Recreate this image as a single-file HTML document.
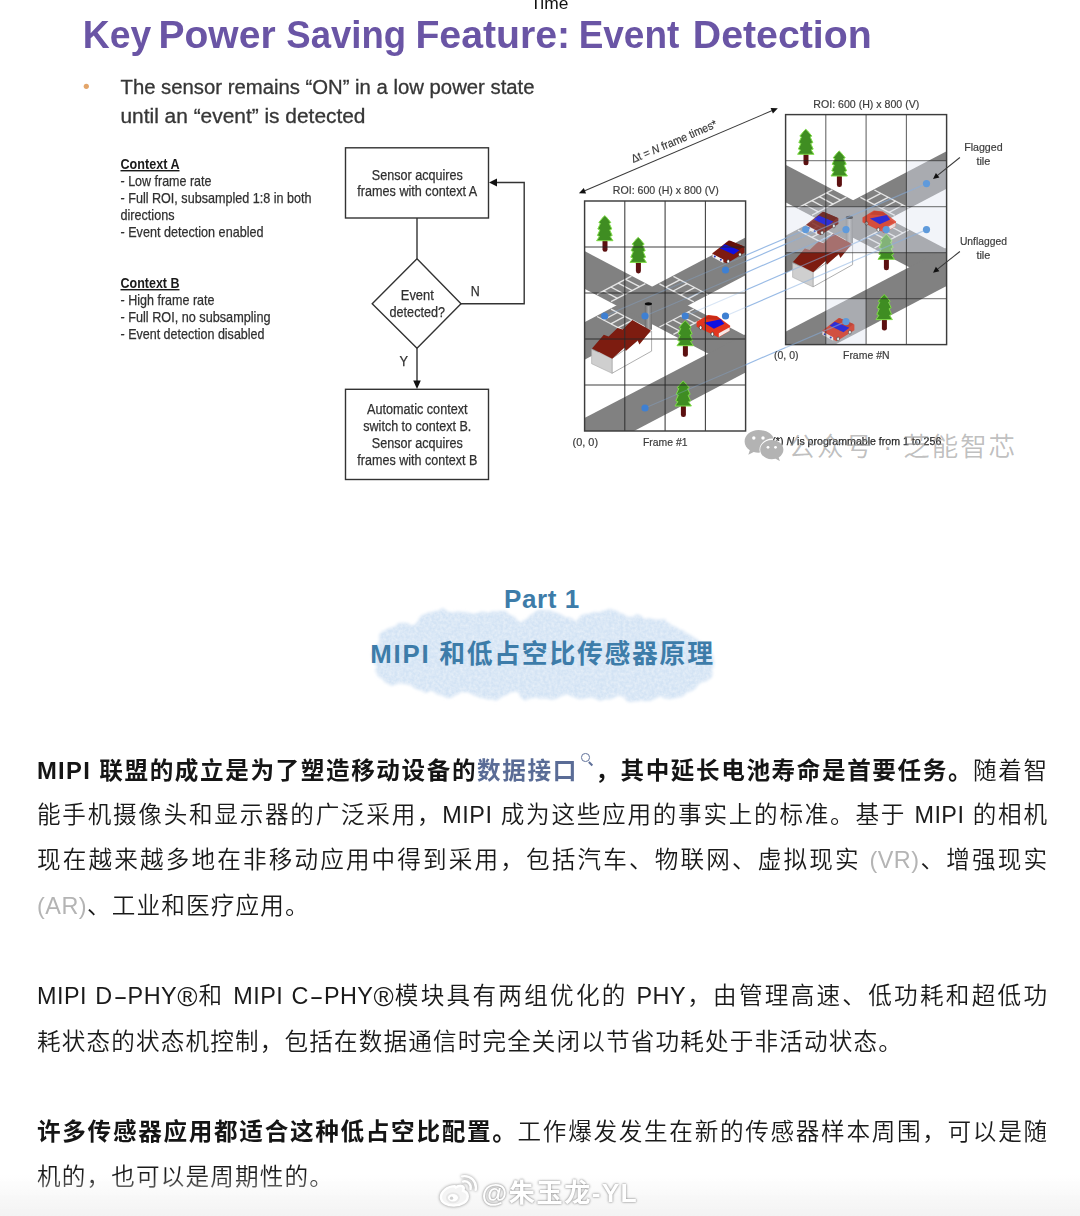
<!DOCTYPE html>
<html lang="zh-CN">
<head>
<meta charset="utf-8">
<title>MIPI 和低占空比传感器原理</title>
<style>
html,body{margin:0;padding:0;background:#fff;}
body{width:1080px;height:1216px;position:relative;overflow:hidden;font-family:"Liberation Sans","Noto Sans CJK SC",sans-serif;}
.slide{position:absolute;left:0;top:0;filter:blur(.65px);}
.wm{position:absolute;left:744px;top:429px;height:34px;white-space:nowrap;}
.wm .wx{position:absolute;left:-.5px;top:0;}
.wm span{position:absolute;left:44.5px;top:-1.5px;font-size:26.5px;line-height:38px;color:rgba(150,150,150,.62);letter-spacing:1.95px;font-weight:350;}
.cloud{position:absolute;left:352px;top:596px;}
.h1,.h2{position:absolute;left:0;width:1080px;text-align:center;color:#3d7ca9;font-weight:700;white-space:nowrap;}
.h1{top:581px;font-size:26px;line-height:36px;letter-spacing:.6px;text-indent:4px;}
.h2{top:635px;font-size:25.8px;line-height:38px;letter-spacing:1.75px;text-indent:5px;}
.ln{position:absolute;left:37px;width:1011.2px;height:45px;line-height:45px;font-size:23.6px;letter-spacing:1.15px;color:#1a1a1a;font-weight:350;white-space:nowrap;}
.ln.j{text-align:justify;text-align-last:justify;white-space:normal;}
.ln b{font-weight:700;color:#151515;}
.ln b .en{font-size:23.8px;letter-spacing:1.3px;}
.txt{filter:blur(.3px);}
.hy{display:inline-block;width:15px;text-align:center;text-align-last:center;transform:scaleX(1.8);letter-spacing:0;}
.rg{font-size:27.5px;line-height:0;letter-spacing:0;position:relative;top:1.5px;}
.ln .lk{color:#5a6c96;}
.ln .gy{color:#b4b4b4;}
.ln .en{font-size:23.4px;letter-spacing:.5px;}
.mg{display:inline-block;position:relative;width:17px;height:20px;vertical-align:top;}
.mg:before{content:"";position:absolute;left:3.5px;top:5.5px;width:6.6px;height:6.6px;border:1.5px solid #5f7099;border-radius:50%;}
.mg:after{content:"";position:absolute;left:11.3px;top:13.2px;width:5.4px;height:1.5px;background:#5f7099;transform:rotate(45deg);transform-origin:0 50%;}
.fade{position:absolute;left:0;top:1174px;width:1080px;height:42px;background:linear-gradient(to bottom,rgba(255,255,255,0),rgba(243,243,243,1));}
.wbm{position:absolute;left:439px;top:1173px;height:38px;white-space:nowrap;}
.wbm .wb{position:absolute;left:0;top:1px;filter:drop-shadow(0 0 1.5px rgba(0,0,0,.45));}
.wbm span{position:absolute;left:42.5px;top:1px;font-size:26.5px;line-height:38px;font-weight:700;color:#fff;text-shadow:0 0 2px rgba(0,0,0,.42),0 0 3px rgba(0,0,0,.25);letter-spacing:1.2px;}
</style>
</head>
<body>
<svg class="slide" width="1080" height="520" viewBox="0 0 1080 520">
<defs><linearGradient id="cyl" x1="0" x2="1" y1="0" y2="0"><stop offset="0" stop-color="#6a6a6a"/><stop offset=".5" stop-color="#a4a4a4"/><stop offset="1" stop-color="#6e6e6e"/></linearGradient></defs>
<g font-family="'Liberation Sans', sans-serif">
<text x="530.4" y="8.5" font-size="17" fill="#111" textLength="38" lengthAdjust="spacingAndGlyphs">Time</text>
<text y="48.4" font-size="39" font-weight="bold" fill="#6a55a5"><tspan x="82.80" textLength="68.39" lengthAdjust="spacingAndGlyphs">Key</tspan> <tspan x="158.50" textLength="117.09" lengthAdjust="spacingAndGlyphs">Power</tspan> <tspan x="286.30" textLength="119.70" lengthAdjust="spacingAndGlyphs">Saving</tspan> <tspan x="415.40" textLength="154.77" lengthAdjust="spacingAndGlyphs">Feature:</tspan> <tspan x="578.70" textLength="100.57" lengthAdjust="spacingAndGlyphs">Event</tspan> <tspan x="692.80" textLength="178.95" lengthAdjust="spacingAndGlyphs">Detection</tspan></text>
<circle cx="86.3" cy="86.3" r="2.6" fill="#e3a56a"/>
<text x="120.5" y="94" font-size="19.6" fill="#363636" stroke="#363636" stroke-width=".3" textLength="414" lengthAdjust="spacingAndGlyphs">The sensor remains “ON” in a low power state</text>
<text x="120.5" y="123" font-size="19.6" fill="#363636" stroke="#363636" stroke-width=".3" textLength="245" lengthAdjust="spacingAndGlyphs">until an “event” is detected</text>
<text x="120.5" y="169.0" font-size="14.2" font-weight="bold" fill="#1a1a1a" text-decoration="underline" textLength="59.0" lengthAdjust="spacingAndGlyphs">Context A</text>
<text x="120.5" y="185.5" font-size="14.2" fill="#303030" stroke="#303030" stroke-width=".25" textLength="91.0" lengthAdjust="spacingAndGlyphs">- Low frame rate</text>
<text x="120.5" y="202.5" font-size="14.2" fill="#303030" stroke="#303030" stroke-width=".25" textLength="191.0" lengthAdjust="spacingAndGlyphs">- Full ROI, subsampled 1:8 in both</text>
<text x="120.5" y="219.5" font-size="14.2" fill="#303030" stroke="#303030" stroke-width=".25" textLength="54.0" lengthAdjust="spacingAndGlyphs">directions</text>
<text x="120.5" y="236.5" font-size="14.2" fill="#303030" stroke="#303030" stroke-width=".25" textLength="143.0" lengthAdjust="spacingAndGlyphs">- Event detection enabled</text>
<text x="120.5" y="288.0" font-size="14.2" font-weight="bold" fill="#1a1a1a" text-decoration="underline" textLength="59.0" lengthAdjust="spacingAndGlyphs">Context B</text>
<text x="120.5" y="304.5" font-size="14.2" fill="#303030" stroke="#303030" stroke-width=".25" textLength="94.0" lengthAdjust="spacingAndGlyphs">- High frame rate</text>
<text x="120.5" y="321.5" font-size="14.2" fill="#303030" stroke="#303030" stroke-width=".25" textLength="150.0" lengthAdjust="spacingAndGlyphs">- Full ROI, no subsampling</text>
<text x="120.5" y="338.5" font-size="14.2" fill="#303030" stroke="#303030" stroke-width=".25" textLength="144.0" lengthAdjust="spacingAndGlyphs">- Event detection disabled</text>
<g fill="none" stroke="#333" stroke-width="1.4">
<rect x="345.5" y="147.8" width="143" height="70.2" fill="#fff"/>
<rect x="345.5" y="389.3" width="143" height="90.2" fill="#fff"/>
<polygon points="417,258.8 461,303.7 417,348.3 372.2,303.7" fill="#fff"/>
<line x1="417" y1="218" x2="417" y2="258.8"/>
<line x1="417" y1="348.3" x2="417" y2="382"/>
<polyline points="461,303.7 524.2,303.7 524.2,182.5 496,182.5"/>
</g>
<polygon points="489,182.5 497,178.6 497,186.4" fill="#111"/>
<polygon points="417,389 413.2,380.5 420.8,380.5" fill="#111"/>
<text x="417.3" y="179.5" font-size="14" fill="#303030" stroke="#303030" stroke-width=".25" text-anchor="middle" textLength="91.0" lengthAdjust="spacingAndGlyphs">Sensor acquires</text>
<text x="417.3" y="196.3" font-size="14" fill="#303030" stroke="#303030" stroke-width=".25" text-anchor="middle" textLength="120.0" lengthAdjust="spacingAndGlyphs">frames with context A</text>
<text x="417.3" y="300.2" font-size="14" fill="#303030" stroke="#303030" stroke-width=".25" text-anchor="middle" textLength="33.0" lengthAdjust="spacingAndGlyphs">Event</text>
<text x="417.3" y="317.0" font-size="14" fill="#303030" stroke="#303030" stroke-width=".25" text-anchor="middle" textLength="55.5" lengthAdjust="spacingAndGlyphs">detected?</text>
<text x="475.2" y="296.0" font-size="14" fill="#303030" stroke="#303030" stroke-width=".25" text-anchor="middle" textLength="9.0" lengthAdjust="spacingAndGlyphs">N</text>
<text x="403.8" y="366.0" font-size="14" fill="#303030" stroke="#303030" stroke-width=".25" text-anchor="middle" textLength="8.5" lengthAdjust="spacingAndGlyphs">Y</text>
<text x="417.3" y="413.8" font-size="14" fill="#303030" stroke="#303030" stroke-width=".25" text-anchor="middle" textLength="100.5" lengthAdjust="spacingAndGlyphs">Automatic context</text>
<text x="417.3" y="430.8" font-size="14" fill="#303030" stroke="#303030" stroke-width=".25" text-anchor="middle" textLength="108.0" lengthAdjust="spacingAndGlyphs">switch to context B.</text>
<text x="417.3" y="447.8" font-size="14" fill="#303030" stroke="#303030" stroke-width=".25" text-anchor="middle" textLength="91.0" lengthAdjust="spacingAndGlyphs">Sensor acquires</text>
<text x="417.3" y="464.6" font-size="14" fill="#303030" stroke="#303030" stroke-width=".25" text-anchor="middle" textLength="120.0" lengthAdjust="spacingAndGlyphs">frames with context B</text>
<g transform="translate(584.6 201.0)"><clipPath id="clip1"><rect x="0" y="0" width="161.0" height="230.0"/></clipPath><rect x="0" y="0" width="161.0" height="230.0" fill="#fff"/><g clip-path="url(#clip1)"><polygon points="-5.0,123.7 166.0,33.9 166.0,71.5 -5.0,161.3" fill="#818181"/><polygon points="-5.0,47.5 166.0,137.3 166.0,174.9 -5.0,85.1" fill="#818181"/><polygon points="-5.0,219.6 166.0,130.5 166.0,168.8 -5.0,258.6" fill="#818181"/><g stroke="#f0f0f0" stroke-width="1.4" stroke-opacity=".9" fill="none"><line x1="26.4" y1="100.6" x2="60.8" y2="82.6"/><line x1="12.4" y1="93.3" x2="46.8" y2="75.2"/><line x1="32.8" y1="97.3" x2="18.8" y2="89.9"/><line x1="40.2" y1="93.4" x2="26.2" y2="86.0"/><line x1="47.6" y1="89.5" x2="33.6" y2="82.1"/><line x1="55.0" y1="85.6" x2="41.0" y2="78.3"/><line x1="74.8" y1="126.0" x2="109.2" y2="108.0"/><line x1="88.8" y1="133.4" x2="123.2" y2="115.3"/><line x1="81.2" y1="122.7" x2="95.2" y2="130.0"/><line x1="88.6" y1="118.8" x2="102.6" y2="126.1"/><line x1="96.0" y1="114.9" x2="110.0" y2="122.2"/><line x1="103.4" y1="111.0" x2="117.4" y2="118.4"/><line x1="26.4" y1="108.2" x2="60.8" y2="126.2"/><line x1="12.4" y1="115.5" x2="46.8" y2="133.6"/><line x1="32.8" y1="111.5" x2="18.8" y2="118.9"/><line x1="40.2" y1="115.4" x2="26.2" y2="122.8"/><line x1="47.6" y1="119.3" x2="33.6" y2="126.7"/><line x1="55.0" y1="123.2" x2="41.0" y2="130.5"/><line x1="74.8" y1="82.8" x2="109.2" y2="100.8"/><line x1="88.8" y1="75.4" x2="123.2" y2="93.5"/><line x1="81.2" y1="86.1" x2="95.2" y2="78.8"/><line x1="88.6" y1="90.0" x2="102.6" y2="82.7"/><line x1="96.0" y1="93.9" x2="110.0" y2="86.6"/><line x1="103.4" y1="97.8" x2="117.4" y2="90.4"/></g></g><rect x="60.2" y="102.8" width="7.2" height="26" fill="url(#cyl)"/><ellipse cx="63.8" cy="102.8" rx="3.6" ry="1.6" fill="#0a0a0a"/><polygon points="27.4,157.5 67.0,130.1 67.0,150.1 27.4,172.3" fill="#fff" stroke="#9a9a9a" stroke-width=".8"/><polygon points="7.0,148.3 27.4,157.5 27.4,172.3 7.0,162.7" fill="#cfcfcf" stroke="#a8a8a8" stroke-width=".6"/><polygon points="7.4,147.5 19.2,133.8 24.0,135.4 32.9,127.0 38.1,128.6 47.7,119.0 66.3,129.4 54.8,143.4 53.1,139.4 41.2,150.1 40.0,146.4 27.6,157.7" fill="#7d1c10"/><rect x="17.9" y="38.2" width="5" height="12.5" rx="2.3" fill="#5c1010"/><polygon points="20.2,14.7 21.8,16.1 26.2,21.5 24.6,22.4 27.2,28.0 25.1,28.9 27.6,34.5 25.5,35.4 28.4,39.7 12.0,39.7 14.9,35.4 12.8,34.5 15.3,28.9 13.2,28.0 15.8,22.4 14.2,21.5 18.6,16.1" fill="#3f8d22" stroke="#7fdc48" stroke-width="1" stroke-linejoin="round"/><rect x="51.3" y="59.9" width="5" height="12.5" rx="2.3" fill="#5c1010"/><polygon points="53.6,36.4 55.2,37.8 59.6,43.2 58.0,44.1 60.6,49.7 58.5,50.6 61.0,56.2 58.9,57.1 61.8,61.4 45.4,61.4 48.3,57.1 46.2,56.2 48.7,50.6 46.6,49.7 49.2,44.1 47.6,43.2 52.0,37.8" fill="#3f8d22" stroke="#7fdc48" stroke-width="1" stroke-linejoin="round"/><rect x="98.3" y="143.2" width="5" height="12.5" rx="2.3" fill="#5c1010"/><polygon points="100.6,119.7 102.2,121.1 106.6,126.5 105.0,127.4 107.6,133.0 105.5,133.9 108.0,139.5 105.9,140.4 108.8,144.7 92.4,144.7 95.3,140.4 93.2,139.5 95.7,133.9 93.6,133.0 96.2,127.4 94.6,126.5 99.0,121.1" fill="#3f8d22" stroke="#7fdc48" stroke-width="1" stroke-linejoin="round"/><rect x="96.3" y="203.5" width="5" height="12.5" rx="2.3" fill="#5c1010"/><polygon points="98.6,180.0 100.2,181.4 104.6,186.8 103.0,187.7 105.6,193.3 103.5,194.2 106.0,199.8 103.9,200.7 106.8,205.0 90.4,205.0 93.3,200.7 91.2,199.8 93.7,194.2 91.6,193.3 94.2,187.7 92.6,186.8 97.0,181.4" fill="#3f8d22" stroke="#7fdc48" stroke-width="1" stroke-linejoin="round"/><g transform="translate(127.6 39.0)"><polygon points="0.2,13.2 16.5,0.4 32.3,6.8 32.3,12.7 14.5,23.6 0.2,16.6" fill="#7e1a10"/><polygon points="11.0,5.2 17.5,0.4 31.5,6.3 25.0,11.3" fill="#651008"/><polygon points="7.6,8.2 12.6,4.2 27.3,10.2 21.4,14.6" fill="#1010e0"/><polygon points="0.2,13.7 11.1,19.6 11.1,23.1 0.2,17.1" fill="#f4f4f4"/><circle cx="2.6" cy="16.6" r="1" fill="#2030c0"/><circle cx="8.6" cy="19.8" r="1" fill="#2030c0"/><ellipse cx="16" cy="21.4" rx="1.4" ry="1.9" fill="#fff" stroke="#222" stroke-width=".6"/><ellipse cx="27.8" cy="14.6" rx="1.4" ry="1.9" fill="#fff" stroke="#222" stroke-width=".6"/></g><g transform="translate(112.0 113.9)"><polygon points="0.0,6.9 11.4,0.0 20.3,1.0 33.6,10.9 33.1,15.8 22.2,22.7 0.0,11.8" fill="#e2361f"/><polygon points="7.0,4.0 12.0,0.6 20.0,1.6 25.0,5.0" fill="#c92a15"/><polygon points="7.4,7.9 24.2,4.4 27.7,8.9 17.3,13.8" fill="#1010e0"/><polygon points="22.2,18.3 33.1,12.3 33.1,15.8 22.2,22.2" fill="#f6e8e6"/><ellipse cx="4" cy="12.8" rx="1.4" ry="1.9" fill="#fff" stroke="#222" stroke-width=".6"/><ellipse cx="15.8" cy="19.2" rx="1.4" ry="1.9" fill="#fff" stroke="#222" stroke-width=".6"/></g><g stroke="#2e2e2e" stroke-width="1.1" stroke-opacity=".9"><line x1="40.2" y1="0" x2="40.2" y2="230.0"/><line x1="80.5" y1="0" x2="80.5" y2="230.0"/><line x1="120.8" y1="0" x2="120.8" y2="230.0"/></g><g stroke="#262626" stroke-width="1.05" stroke-opacity=".88"><line x1="0" y1="46.0" x2="161.0" y2="46.0"/><line x1="0" y1="92.0" x2="161.0" y2="92.0"/><line x1="0" y1="138.0" x2="161.0" y2="138.0"/><line x1="0" y1="184.0" x2="161.0" y2="184.0"/></g><rect x="0" y="0" width="161.0" height="230.0" fill="none" stroke="#3c3c3c" stroke-width="1.45"/></g>
<g transform="translate(785.6 114.6)"><clipPath id="clip2"><rect x="0" y="0" width="161.0" height="230.0"/></clipPath><rect x="0" y="0" width="161.0" height="230.0" fill="#fff"/><g clip-path="url(#clip2)"><polygon points="-5.0,123.7 166.0,33.9 166.0,71.5 -5.0,161.3" fill="#818181"/><polygon points="-5.0,47.5 166.0,137.3 166.0,174.9 -5.0,85.1" fill="#818181"/><polygon points="-5.0,219.6 166.0,130.5 166.0,168.8 -5.0,258.6" fill="#818181"/><g stroke="#f0f0f0" stroke-width="1.4" stroke-opacity=".9" fill="none"><line x1="26.4" y1="100.6" x2="60.8" y2="82.6"/><line x1="12.4" y1="93.3" x2="46.8" y2="75.2"/><line x1="32.8" y1="97.3" x2="18.8" y2="89.9"/><line x1="40.2" y1="93.4" x2="26.2" y2="86.0"/><line x1="47.6" y1="89.5" x2="33.6" y2="82.1"/><line x1="55.0" y1="85.6" x2="41.0" y2="78.3"/><line x1="74.8" y1="126.0" x2="109.2" y2="108.0"/><line x1="88.8" y1="133.4" x2="123.2" y2="115.3"/><line x1="81.2" y1="122.7" x2="95.2" y2="130.0"/><line x1="88.6" y1="118.8" x2="102.6" y2="126.1"/><line x1="96.0" y1="114.9" x2="110.0" y2="122.2"/><line x1="103.4" y1="111.0" x2="117.4" y2="118.4"/><line x1="26.4" y1="108.2" x2="60.8" y2="126.2"/><line x1="12.4" y1="115.5" x2="46.8" y2="133.6"/><line x1="32.8" y1="111.5" x2="18.8" y2="118.9"/><line x1="40.2" y1="115.4" x2="26.2" y2="122.8"/><line x1="47.6" y1="119.3" x2="33.6" y2="126.7"/><line x1="55.0" y1="123.2" x2="41.0" y2="130.5"/><line x1="74.8" y1="82.8" x2="109.2" y2="100.8"/><line x1="88.8" y1="75.4" x2="123.2" y2="93.5"/><line x1="81.2" y1="86.1" x2="95.2" y2="78.8"/><line x1="88.6" y1="90.0" x2="102.6" y2="82.7"/><line x1="96.0" y1="93.9" x2="110.0" y2="86.6"/><line x1="103.4" y1="97.8" x2="117.4" y2="90.4"/></g></g><rect x="60.2" y="102.8" width="7.2" height="26" fill="url(#cyl)"/><ellipse cx="63.8" cy="102.8" rx="3.6" ry="1.6" fill="#0a0a0a"/><polygon points="27.4,157.5 67.0,130.1 67.0,150.1 27.4,172.3" fill="#fff" stroke="#9a9a9a" stroke-width=".8"/><polygon points="7.0,148.3 27.4,157.5 27.4,172.3 7.0,162.7" fill="#cfcfcf" stroke="#a8a8a8" stroke-width=".6"/><polygon points="7.4,147.5 19.2,133.8 24.0,135.4 32.9,127.0 38.1,128.6 47.7,119.0 66.3,129.4 54.8,143.4 53.1,139.4 41.2,150.1 40.0,146.4 27.6,157.7" fill="#7d1c10"/><rect x="17.9" y="38.2" width="5" height="12.5" rx="2.3" fill="#5c1010"/><polygon points="20.2,14.7 21.8,16.1 26.2,21.5 24.6,22.4 27.2,28.0 25.1,28.9 27.6,34.5 25.5,35.4 28.4,39.7 12.0,39.7 14.9,35.4 12.8,34.5 15.3,28.9 13.2,28.0 15.8,22.4 14.2,21.5 18.6,16.1" fill="#3f8d22" stroke="#7fdc48" stroke-width="1" stroke-linejoin="round"/><rect x="51.3" y="59.9" width="5" height="12.5" rx="2.3" fill="#5c1010"/><polygon points="53.6,36.4 55.2,37.8 59.6,43.2 58.0,44.1 60.6,49.7 58.5,50.6 61.0,56.2 58.9,57.1 61.8,61.4 45.4,61.4 48.3,57.1 46.2,56.2 48.7,50.6 46.6,49.7 49.2,44.1 47.6,43.2 52.0,37.8" fill="#3f8d22" stroke="#7fdc48" stroke-width="1" stroke-linejoin="round"/><rect x="98.3" y="143.2" width="5" height="12.5" rx="2.3" fill="#5c1010"/><polygon points="100.6,119.7 102.2,121.1 106.6,126.5 105.0,127.4 107.6,133.0 105.5,133.9 108.0,139.5 105.9,140.4 108.8,144.7 92.4,144.7 95.3,140.4 93.2,139.5 95.7,133.9 93.6,133.0 96.2,127.4 94.6,126.5 99.0,121.1" fill="#3f8d22" stroke="#7fdc48" stroke-width="1" stroke-linejoin="round"/><rect x="96.3" y="203.5" width="5" height="12.5" rx="2.3" fill="#5c1010"/><polygon points="98.6,180.0 100.2,181.4 104.6,186.8 103.0,187.7 105.6,193.3 103.5,194.2 106.0,199.8 103.9,200.7 106.8,205.0 90.4,205.0 93.3,200.7 91.2,199.8 93.7,194.2 91.6,193.3 94.2,187.7 92.6,186.8 97.0,181.4" fill="#3f8d22" stroke="#7fdc48" stroke-width="1" stroke-linejoin="round"/><rect x="120.8" y="46.0" width="40.2" height="46.0" fill="#dfe4f0" fill-opacity=".42"/><rect x="0.0" y="92.0" width="40.2" height="46.0" fill="#dfe4f0" fill-opacity=".42"/><rect x="40.2" y="92.0" width="40.2" height="46.0" fill="#dfe4f0" fill-opacity=".42"/><rect x="80.5" y="92.0" width="40.2" height="46.0" fill="#dfe4f0" fill-opacity=".42"/><rect x="120.8" y="92.0" width="40.2" height="46.0" fill="#dfe4f0" fill-opacity=".42"/><rect x="40.2" y="184.0" width="40.2" height="46.0" fill="#dfe4f0" fill-opacity=".42"/><g opacity=".8"><g transform="translate(20.5 96.8)"><polygon points="0.2,13.2 16.5,0.4 32.3,6.8 32.3,12.7 14.5,23.6 0.2,16.6" fill="#7e1f18"/><polygon points="11.0,5.2 17.5,0.4 31.5,6.3 25.0,11.3" fill="#651008"/><polygon points="7.6,8.2 12.6,4.2 27.3,10.2 21.4,14.6" fill="#1010e0"/><polygon points="0.2,13.7 11.1,19.6 11.1,23.1 0.2,17.1" fill="#f4f4f4"/><circle cx="2.6" cy="16.6" r="1" fill="#2030c0"/><circle cx="8.6" cy="19.8" r="1" fill="#2030c0"/><ellipse cx="16" cy="21.4" rx="1.4" ry="1.9" fill="#fff" stroke="#222" stroke-width=".6"/><ellipse cx="27.8" cy="14.6" rx="1.4" ry="1.9" fill="#fff" stroke="#222" stroke-width=".6"/></g><g transform="translate(76.9 95.9)"><polygon points="0.0,6.9 11.4,0.0 20.3,1.0 33.6,10.9 33.1,15.8 22.2,22.7 0.0,11.8" fill="#e2361f"/><polygon points="7.0,4.0 12.0,0.6 20.0,1.6 25.0,5.0" fill="#c92a15"/><polygon points="7.4,7.9 24.2,4.4 27.7,8.9 17.3,13.8" fill="#1010e0"/><polygon points="22.2,18.3 33.1,12.3 33.1,15.8 22.2,22.2" fill="#f6e8e6"/><ellipse cx="4" cy="12.8" rx="1.4" ry="1.9" fill="#fff" stroke="#222" stroke-width=".6"/><ellipse cx="15.8" cy="19.2" rx="1.4" ry="1.9" fill="#fff" stroke="#222" stroke-width=".6"/></g><g transform="translate(36.5 203.0)"><polygon points="0.2,13.2 16.5,0.4 32.3,6.8 32.3,12.7 14.5,23.6 0.2,16.6" fill="#dc3a26"/><polygon points="11.0,5.2 17.5,0.4 31.5,6.3 25.0,11.3" fill="#c22f1c"/><polygon points="7.6,8.2 12.6,4.2 27.3,10.2 21.4,14.6" fill="#1010e0"/><polygon points="0.2,13.7 11.1,19.6 11.1,23.1 0.2,17.1" fill="#f4f4f4"/><circle cx="2.6" cy="16.6" r="1" fill="#2030c0"/><circle cx="8.6" cy="19.8" r="1" fill="#2030c0"/><ellipse cx="16" cy="21.4" rx="1.4" ry="1.9" fill="#fff" stroke="#222" stroke-width=".6"/><ellipse cx="27.8" cy="14.6" rx="1.4" ry="1.9" fill="#fff" stroke="#222" stroke-width=".6"/></g></g><g stroke="#2e2e2e" stroke-width="1.1" stroke-opacity=".72"><line x1="40.2" y1="0" x2="40.2" y2="230.0"/><line x1="80.5" y1="0" x2="80.5" y2="230.0"/><line x1="120.8" y1="0" x2="120.8" y2="230.0"/></g><g stroke="#262626" stroke-width="1.05" stroke-opacity=".55"><line x1="0" y1="46.0" x2="161.0" y2="46.0"/><line x1="0" y1="92.0" x2="161.0" y2="92.0"/><line x1="0" y1="138.0" x2="161.0" y2="138.0"/><line x1="0" y1="184.0" x2="161.0" y2="184.0"/></g><rect x="0" y="0" width="161.0" height="230.0" fill="none" stroke="#3c3c3c" stroke-width="1.45"/></g>
<clipPath id="cl1"><rect x="584.6" y="0" width="161.0" height="520"/></clipPath>
<clipPath id="cl2"><rect x="745.6" y="0" width="40.0" height="520"/></clipPath>
<clipPath id="cl3"><rect x="785.6" y="0" width="300" height="520"/></clipPath>
<g stroke="#86aee0" stroke-width="1.15" stroke-opacity="0.32" clip-path="url(#cl1)">
<line x1="604.7" y1="316.0" x2="805.7" y2="229.6"/>
<line x1="645.0" y1="316.0" x2="846.0" y2="229.6"/>
<line x1="685.2" y1="316.0" x2="886.2" y2="229.6"/>
<line x1="725.5" y1="316.0" x2="926.5" y2="229.6"/>
<line x1="725.5" y1="270.0" x2="926.5" y2="183.6"/>
<line x1="645.0" y1="408.0" x2="846.0" y2="321.6"/>
</g>
<g stroke="#86aee0" stroke-width="1.15" stroke-opacity="0.85" clip-path="url(#cl2)">
<line x1="604.7" y1="316.0" x2="805.7" y2="229.6"/>
<line x1="645.0" y1="316.0" x2="846.0" y2="229.6"/>
<line x1="685.2" y1="316.0" x2="886.2" y2="229.6"/>
<line x1="725.5" y1="316.0" x2="926.5" y2="229.6"/>
<line x1="725.5" y1="270.0" x2="926.5" y2="183.6"/>
<line x1="645.0" y1="408.0" x2="846.0" y2="321.6"/>
</g>
<g stroke="#86aee0" stroke-width="1.15" stroke-opacity="0.55" clip-path="url(#cl3)">
<line x1="604.7" y1="316.0" x2="805.7" y2="229.6"/>
<line x1="645.0" y1="316.0" x2="846.0" y2="229.6"/>
<line x1="685.2" y1="316.0" x2="886.2" y2="229.6"/>
<line x1="725.5" y1="316.0" x2="926.5" y2="229.6"/>
<line x1="725.5" y1="270.0" x2="926.5" y2="183.6"/>
<line x1="645.0" y1="408.0" x2="846.0" y2="321.6"/>
</g>
<circle cx="604.7" cy="316.0" r="3.6" fill="#3f80d2"/>
<circle cx="805.7" cy="229.6" r="3.6" fill="#5f9adb"/>
<circle cx="645.0" cy="316.0" r="3.6" fill="#3f80d2"/>
<circle cx="846.0" cy="229.6" r="3.6" fill="#5f9adb"/>
<circle cx="685.2" cy="316.0" r="3.6" fill="#3f80d2"/>
<circle cx="886.2" cy="229.6" r="3.6" fill="#5f9adb"/>
<circle cx="725.5" cy="316.0" r="3.6" fill="#3f80d2"/>
<circle cx="926.5" cy="229.6" r="3.6" fill="#5f9adb"/>
<circle cx="725.5" cy="270.0" r="3.6" fill="#3f80d2"/>
<circle cx="926.5" cy="183.6" r="3.6" fill="#5f9adb"/>
<circle cx="645.0" cy="408.0" r="3.6" fill="#3f80d2"/>
<circle cx="846.0" cy="321.6" r="3.6" fill="#5f9adb"/>
<text x="612.8" y="194.4" font-size="11.2" fill="#3c3c3c" stroke="#3c3c3c" stroke-width=".2" text-anchor="start" textLength="106.0" lengthAdjust="spacingAndGlyphs" >ROI: 600 (H) x 800 (V)</text>
<text x="813.3" y="108.0" font-size="11.2" fill="#3c3c3c" stroke="#3c3c3c" stroke-width=".2" text-anchor="start" textLength="106.0" lengthAdjust="spacingAndGlyphs" >ROI: 600 (H) x 800 (V)</text>
<text x="572.6" y="445.6" font-size="11.2" fill="#3c3c3c" stroke="#3c3c3c" stroke-width=".2" text-anchor="start" textLength="25.5" lengthAdjust="spacingAndGlyphs" >(0, 0)</text>
<text x="643.0" y="445.6" font-size="11.2" fill="#3c3c3c" stroke="#3c3c3c" stroke-width=".2" text-anchor="start" textLength="44.5" lengthAdjust="spacingAndGlyphs" >Frame #1</text>
<text x="774.0" y="359.2" font-size="11.2" fill="#3c3c3c" stroke="#3c3c3c" stroke-width=".2" text-anchor="start" textLength="24.5" lengthAdjust="spacingAndGlyphs" >(0, 0)</text>
<text x="843.0" y="359.2" font-size="11.2" fill="#3c3c3c" stroke="#3c3c3c" stroke-width=".2" text-anchor="start" textLength="46.5" lengthAdjust="spacingAndGlyphs" >Frame #N</text>
<text x="983.4" y="151.0" font-size="11.2" fill="#3c3c3c" stroke="#3c3c3c" stroke-width=".2" text-anchor="middle" textLength="38.5" lengthAdjust="spacingAndGlyphs" >Flagged</text>
<text x="983.4" y="165.0" font-size="11.2" fill="#3c3c3c" stroke="#3c3c3c" stroke-width=".2" text-anchor="middle" textLength="14.0" lengthAdjust="spacingAndGlyphs" >tile</text>
<text x="983.4" y="245.2" font-size="11.2" fill="#3c3c3c" stroke="#3c3c3c" stroke-width=".2" text-anchor="middle" textLength="47.0" lengthAdjust="spacingAndGlyphs" >Unflagged</text>
<text x="983.4" y="258.6" font-size="11.2" fill="#3c3c3c" stroke="#3c3c3c" stroke-width=".2" text-anchor="middle" textLength="14.0" lengthAdjust="spacingAndGlyphs" >tile</text>
<text x="772.3" y="445" font-size="10.3" fill="#2a2a2a" stroke="#2a2a2a" stroke-width=".25" textLength="169" lengthAdjust="spacingAndGlyphs">(*) <tspan font-style="italic">N</tspan> is programmable from 1 to 256</text>
<g transform="translate(675.6 145.0) rotate(-23.2)"><text x="0" y="0" font-size="11.4" fill="#3a3a3a" stroke="#3a3a3a" stroke-width=".2" text-anchor="middle" textLength="92" lengthAdjust="spacingAndGlyphs">Δt = <tspan font-style="italic">N</tspan> frame times*</text></g>
<g stroke="#3a3a3a" stroke-width="1.05" fill="none">
<line x1="583" y1="191.5" x2="773.5" y2="110"/>
<line x1="959.9" y1="157.5" x2="936" y2="176.6"/>
<line x1="959.9" y1="251.5" x2="936" y2="270.3"/>
</g>
<polygon points="777.8,108.2 772.9,113.5 770.6,108.1" fill="#111"/>
<polygon points="578.9,193.3 583.8,188.0 586.1,193.4" fill="#111"/>
<polygon points="933.0,179.0 935.9,173.1 939.4,177.5" fill="#111"/>
<polygon points="933.0,272.7 935.9,266.8 939.4,271.2" fill="#111"/>
</g>
</svg>
<div class="wm"><svg class="wx" width="40" height="32" viewBox="0 0 40 32"><g fill="#b3b3b3"><path d="M14.5 1C6.8 1 .6 6.1 .6 12.4c0 3.6 2 6.7 5.200 8.800L4.300 25.800l5.400-2.800c1.500.4 3.100.7 4.800.7.500 0 1 0 1.500-.1-.3-1-.5-2-.5-3.100 0-6 5.800-10.900 12.900-10.900.5 0 .9 0 1.400.1C28.500 4.700 22.100 1 14.500 1z"/><path d="M39.400 20.700c0-5.300-5.200-9.600-11.600-9.600s-11.600 4.300-11.600 9.600 5.200 9.600 11.600 9.600c1.300 0 2.600-.2 3.800-.5l4.300 2.300-1.200-3.700c2.900-1.800 4.700-4.600 4.700-7.700z"/></g><g fill="#fff"><circle cx="9.800" cy="9" r="1.700"/><circle cx="19" cy="9" r="1.700"/><circle cx="24" cy="18.300" r="1.400"/><circle cx="31.500" cy="18.300" r="1.400"/></g></svg><span>公众号 · 芝能智芯</span></div>
<svg class="cloud" width="380" height="120" viewBox="0 0 380 120"><defs><filter id="cb" x="-5%" y="-10%" width="110%" height="120%"><feTurbulence type="fractalNoise" baseFrequency="0.045" numOctaves="3" seed="7" result="n"/><feDisplacementMap in="SourceGraphic" in2="n" scale="12" xChannelSelector="R" yChannelSelector="G" result="d"/><feGaussianBlur in="d" stdDeviation="1.6" result="b"/><feTurbulence type="fractalNoise" baseFrequency="0.35" numOctaves="2" seed="3" result="t"/><feColorMatrix in="t" type="matrix" values="0 0 0 0 1  0 0 0 0 1  0 0 0 0 1  0.7 0 0 0 -0.2" result="w"/><feComposite in="w" in2="b" operator="in" result="wi"/><feMerge><feMergeNode in="b"/><feMergeNode in="wi"/></feMerge></filter></defs><path filter="url(#cb)" fill="#d3e3f4" d="M26 46 C30 30 50 24 62 30 C72 10 104 8 118 22 C134 12 160 14 170 24 C186 14 214 16 226 26 C240 14 262 10 276 22 C296 16 320 24 326 36 C344 34 360 46 356 60 C366 70 362 84 350 86 C346 98 326 104 312 98 C300 108 276 108 266 98 C250 106 226 104 216 96 C200 106 176 106 164 96 C148 106 122 106 110 94 C92 104 66 100 58 88 C40 92 24 82 26 70 C16 64 16 52 26 46 Z"/></svg>
<div class="h1">Part 1</div>
<div class="h2">MIPI 和低占空比传感器原理</div>
<div class="txt">
<div class="ln j" style="top:747.9px"><b><span class="en">MIPI</span> 联盟的成立是为了塑造移动设备的<span class="lk">数据接口</span><span class="mg"></span>，其中延长电池寿命是首要任务。</b>随着智</div>
<div class="ln j" style="top:793.2px">能手机摄像头和显示器的广泛采用，<span class="en">MIPI</span> 成为这些应用的事实上的标准。基于 <span class="en">MIPI</span> 的相机</div>
<div class="ln j" style="top:838.4px">现在越来越多地在非移动应用中得到采用，包括汽车、物联网、虚拟现实 <span class="en gy">(VR)</span>、增强现实</div>
<div class="ln" style="top:883.7px"><span class="en gy">(AR)</span>、工业和医疗应用。</div>
<div class="ln j" style="top:974.4px"><span class="en">MIPI D<span class="hy">-</span>PHY<span class="rg">®</span></span>和 <span class="en">MIPI C<span class="hy">-</span>PHY<span class="rg">®</span></span>模块具有两组优化的 <span class="en">PHY</span>，由管理高速、低功耗和超低功</div>
<div class="ln" style="top:1019.6px">耗状态的状态机控制，包括在数据通信时完全关闭以节省功耗处于非活动状态。</div>
<div class="ln j" style="top:1110.2px"><b>许多传感器应用都适合这种低占空比配置。</b>工作爆发发生在新的传感器样本周围，可以是随</div>
<div class="ln" style="top:1155.4px">机的，也可以是周期性的。</div>
</div>
<div class="fade"></div>
<div class="wbm"><svg class="wb" width="39" height="33.500" viewBox="0 0 42 36"><g fill="none" stroke="#fff" stroke-linecap="round"><path d="M17 13 C9 13 2 19 2 25 C2 31 9 34 16 34 C24 34 31 30 31 24 C31 21 29 19 26 18 C27 16 27 14 25 13 C23 12 20 13 17 15 C18 14 18 13 17 13 Z" stroke-width="2.6" fill="#f4f4f4"/><ellipse cx="15" cy="25.500" rx="6.500" ry="5" stroke-width="2" stroke="#e6e6e6" fill="#fff"/><path d="M26 8 C31 7 35 11 34 16" stroke-width="2.600"/><path d="M25 2.500 C34 1 41 8 39.500 17" stroke-width="2.600"/></g><circle cx="13.500" cy="26" r="1.800" fill="#cfcfcf"/></svg><span>@朱玉龙-YL</span></div>
</body>
</html>
